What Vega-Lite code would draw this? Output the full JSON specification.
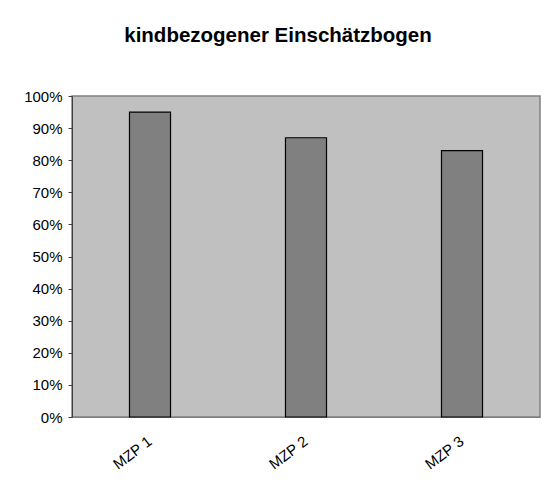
{
  "$schema": "https://vega.github.io/schema/vega-lite/v6.json",
  "autosize": "none",
  "width": 468,
  "height": 321,
  "padding": {"left": 72, "top": 96, "right": 2, "bottom": 66},
  "background": "white",
  "title": {
    "text": "kindbezogener Einschätzbogen",
    "font": "Liberation Sans",
    "fontSize": 20.5,
    "fontWeight": "bold",
    "color": "black",
    "anchor": "middle",
    "frame": "group",
    "baseline": "alphabetic",
    "offset": 27,
    "dx": -28
  },
  "data": {
    "values": [
      {"mzp": "MZP 1", "anteil": 0.95},
      {"mzp": "MZP 2", "anteil": 0.87},
      {"mzp": "MZP 3", "anteil": 0.83}
    ]
  },
  "mark": {"type": "bar", "fill": "#808080", "stroke": "black", "strokeWidth": 1.2},
  "encoding": {
    "x": {
      "field": "mzp",
      "type": "nominal",
      "sort": null,
      "title": null,
      "scale": {"paddingInner": 0.737, "paddingOuter": 0.3685},
      "axis": {
        "labelAngle": -37,
        "labelAlign": "right",
        "labelBaseline": "middle",
        "labelPadding": 22,
        "labelDx": -12,
        "ticks": false,
        "domainColor": "#808080",
        "labelFont": "Liberation Sans",
        "labelFontSize": 15,
        "labelColor": "black",
        "grid": false
      }
    },
    "y": {
      "field": "anteil",
      "type": "quantitative",
      "title": null,
      "scale": {"domain": [0, 1], "nice": false},
      "axis": {
        "format": ".0%",
        "values": [0, 0.1, 0.2, 0.3, 0.4, 0.5, 0.6, 0.7, 0.8, 0.9, 1],
        "grid": false,
        "tickSize": 4,
        "tickColor": "#404040",
        "domainColor": "#404040",
        "labelPadding": 6,
        "labelFont": "Liberation Sans",
        "labelFontSize": 15,
        "labelColor": "black"
      }
    }
  },
  "config": {
    "view": {"fill": "#C0C0C0", "stroke": "#808080", "strokeWidth": 1.5}
  }
}
